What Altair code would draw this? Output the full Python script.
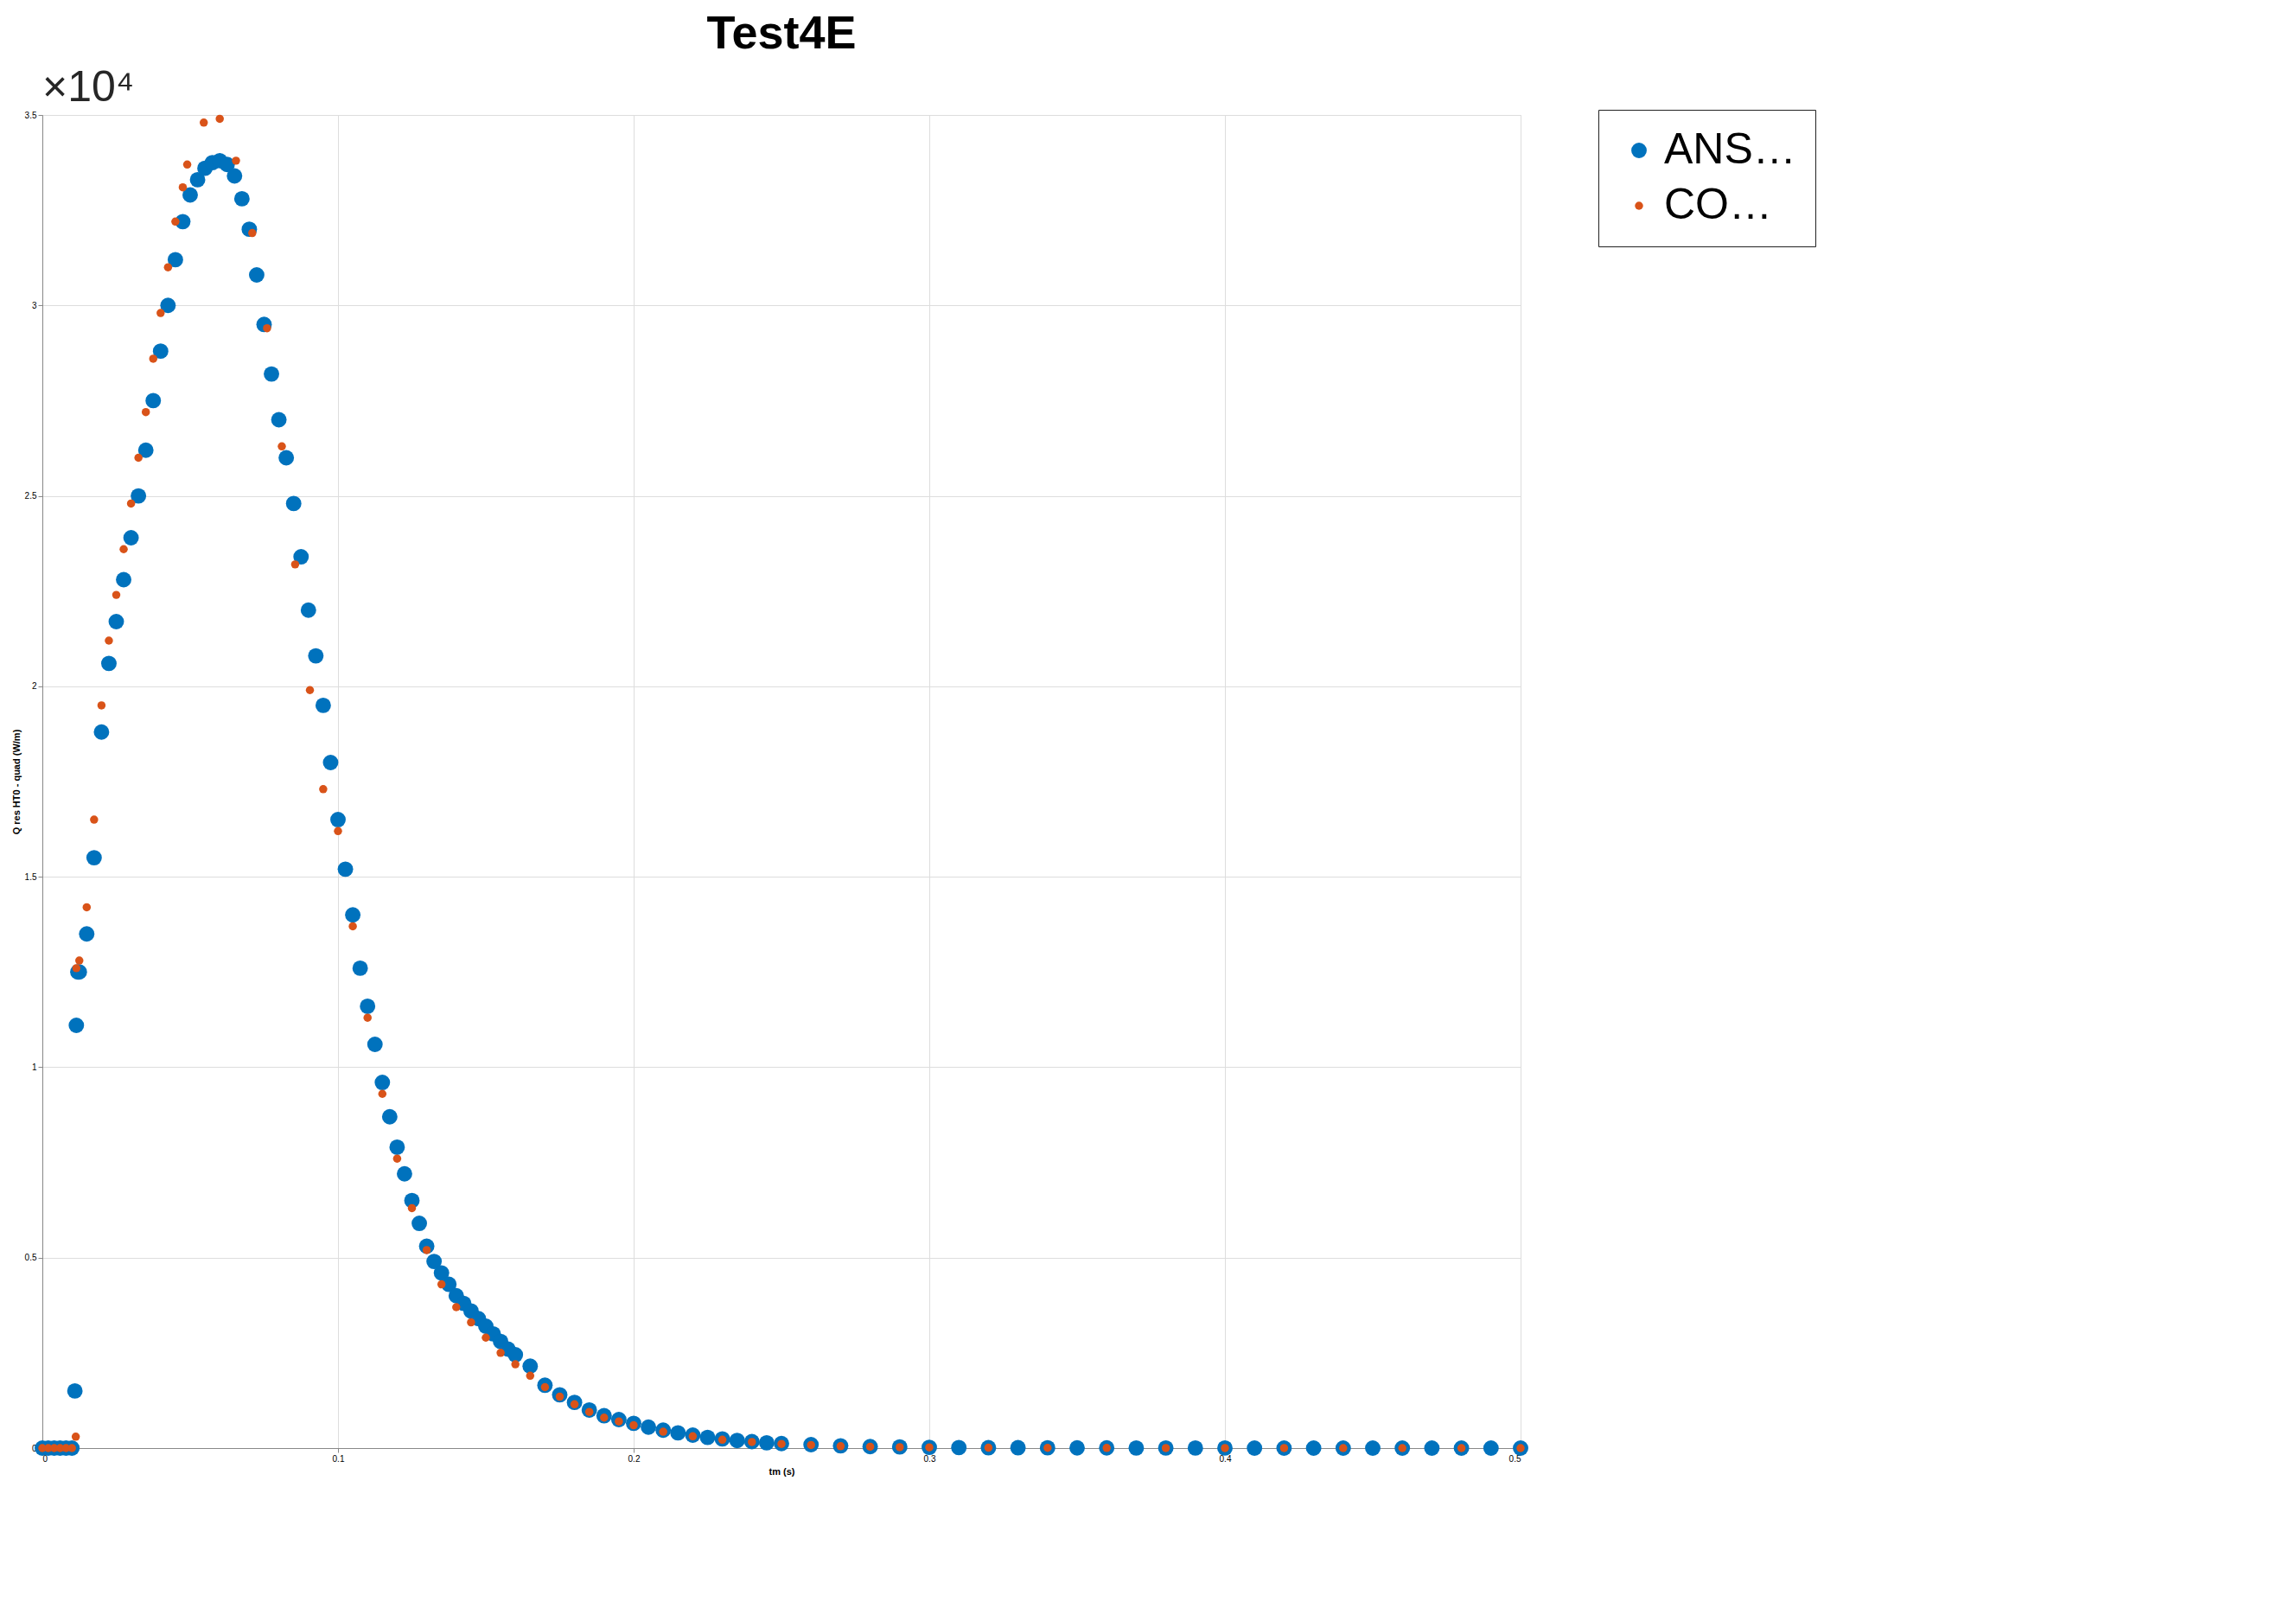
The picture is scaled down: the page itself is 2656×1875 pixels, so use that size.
import altair as alt
import pandas as pd

ansys_t = [0, 0.002, 0.004, 0.006, 0.008, 0.010, 0.011, 0.0115, 0.012,
           0.0125, 0.015, 0.0175, 0.02, 0.0225, 0.025, 0.0275, 0.03, 0.0325, 0.035, 0.0375,
           0.04, 0.0425, 0.045, 0.0475, 0.05, 0.0525, 0.055, 0.0575, 0.06, 0.0625,
           0.065, 0.0675, 0.07, 0.0725, 0.075, 0.0775, 0.08, 0.0825, 0.085, 0.0875,
           0.09, 0.0925, 0.095, 0.0975, 0.1, 0.1025, 0.105, 0.1075, 0.11, 0.1125,
           0.115, 0.1175, 0.12, 0.1225, 0.125, 0.1275, 0.13, 0.1325, 0.135, 0.1375,
           0.14, 0.1425, 0.145, 0.1475, 0.15, 0.1525, 0.155, 0.1575, 0.16, 0.165,
           0.17, 0.175, 0.18, 0.185, 0.19, 0.195, 0.2, 0.205, 0.21, 0.215, 0.22,
           0.225, 0.23, 0.235, 0.24, 0.245, 0.25, 0.26, 0.27, 0.28, 0.29, 0.3,
           0.31, 0.32, 0.33, 0.34, 0.35, 0.36, 0.37, 0.38, 0.39, 0.4, 0.41, 0.42,
           0.43, 0.44, 0.45, 0.46, 0.47, 0.48, 0.49, 0.5]
ansys_q = [0, 0, 0, 0, 0, 0, 0.15, 1.11, 1.25,
           1.25, 1.35, 1.55, 1.88, 2.06, 2.17, 2.28, 2.39, 2.5, 2.62, 2.75,
           2.88, 3.0, 3.12, 3.22, 3.29, 3.33, 3.36, 3.375, 3.38, 3.37,
           3.34, 3.28, 3.2, 3.08, 2.95, 2.82, 2.7, 2.6, 2.48, 2.34,
           2.2, 2.08, 1.95, 1.8, 1.65, 1.52, 1.4, 1.26, 1.16, 1.06,
           0.96, 0.87, 0.79, 0.72, 0.65, 0.59, 0.53, 0.49, 0.46, 0.43,
           0.40, 0.38, 0.36, 0.34, 0.32, 0.30, 0.28, 0.26, 0.245, 0.215,
           0.165, 0.14, 0.12, 0.10, 0.085, 0.075, 0.065, 0.055, 0.047, 0.04, 0.034,
           0.028, 0.024, 0.02, 0.017, 0.014, 0.012, 0.009, 0.006, 0.004, 0.003, 0.002,
           0.0015, 0.001, 0.001, 0.0008, 0.0006, 0.0005, 0.0004, 0.0003, 0.0002, 0.0002, 0.0001, 0.0001,
           0.0001, 0, 0, 0, 0, 0, 0, 0]

comsol_t = [0, 0.002, 0.004, 0.006, 0.008, 0.010, 0.0113,
            0.0115, 0.0125, 0.015, 0.0175, 0.02, 0.0225, 0.025, 0.0275, 0.03, 0.0325,
            0.035, 0.0375, 0.04, 0.0425, 0.045, 0.0475, 0.049, 0.0546, 0.060, 0.0655,
            0.071, 0.076, 0.081, 0.0855, 0.0905, 0.095, 0.1, 0.105, 0.11, 0.115, 0.12,
            0.125, 0.13, 0.135, 0.14, 0.145, 0.15, 0.155, 0.16, 0.165, 0.17, 0.175,
            0.18, 0.185, 0.19, 0.195, 0.2, 0.21, 0.22, 0.23, 0.24, 0.25, 0.26, 0.27,
            0.28, 0.29, 0.3, 0.32, 0.34, 0.36, 0.38, 0.4, 0.42, 0.44, 0.46, 0.48, 0.5]
comsol_q = [0, 0, 0, 0, 0, 0, 0.03,
            1.26, 1.28, 1.42, 1.65, 1.95, 2.12, 2.24, 2.36, 2.48, 2.6,
            2.72, 2.86, 2.98, 3.1, 3.22, 3.31, 3.37, 3.48, 3.49, 3.38,
            3.19, 2.94, 2.63, 2.32, 1.99, 1.73, 1.62, 1.37, 1.13, 0.93, 0.76,
            0.63, 0.52, 0.43, 0.37, 0.33, 0.29, 0.25, 0.22, 0.19, 0.16, 0.135,
            0.115, 0.095, 0.08, 0.07, 0.06, 0.043, 0.031, 0.022, 0.016, 0.011, 0.008, 0.005,
            0.0035, 0.0025, 0.0018, 0.001, 0.0006, 0.0004, 0.0002, 0.0001, 0.0001, 0, 0, 0, 0]

df = pd.concat([
    pd.DataFrame({"t": ansys_t, "q": [v * 1e4 for v in ansys_q], "s": "ANSYS"}),
    pd.DataFrame({"t": comsol_t, "q": [v * 1e4 for v in comsol_q], "s": "COMSOL"}),
])

FONT = "Liberation Sans"

pts = alt.Chart(df).mark_point(filled=True, opacity=1, shape="circle").encode(
    x=alt.X("t:Q", scale=alt.Scale(domain=[0, 0.5], nice=False),
            axis=alt.Axis(title="tm (s)", values=[0, 0.1, 0.2, 0.3, 0.4, 0.5], format="~g")),
    y=alt.Y("q:Q", scale=alt.Scale(domain=[0, 35000], nice=False),
            axis=alt.Axis(title="Q res HT0 - quad (W/m)",
                          values=[0, 5000, 10000, 15000, 20000, 25000, 30000, 35000],
                          labelExpr="datum.value/10000")),
    color=alt.Color("s:N", scale=alt.Scale(domain=["ANSYS", "COMSOL"], range=["#0072BD", "#D95319"]),
                    legend=alt.Legend(title=None, orient="none", legendX=1800, legendY=-6,
                                      strokeColor="#222", fillColor="white", padding=22,
                                      symbolSize=250, labelFontSize=50, labelFont=FONT,
                                      rowPadding=14, symbolType="circle")),
    size=alt.Size("s:N", scale=alt.Scale(domain=["ANSYS", "COMSOL"], range=[320, 90]), legend=None),
    order=alt.Order("s:N"),
)

mult = alt.Chart(pd.DataFrame({"a": [1]})).mark_text(
    text="×10⁴", align="left", baseline="bottom", fontSize=50, font=FONT, color="#262626"
).encode(x=alt.value(0), y=alt.value(-6))

chart = (pts + mult).properties(
    width=1710, height=1542,
    title=alt.TitleParams("Test4E", fontSize=54, font=FONT, fontWeight="bold", offset=10),
).configure_view(stroke="#262626", strokeWidth=5).configure_axis(
    labelFont=FONT, titleFont=FONT, labelFontSize=50, titleFontSize=58,
    labelColor="#262626", titleColor="#262626", titleFontWeight="normal",
    grid=True, gridColor="#dcdcdc", gridWidth=3, domain=False,
    tickColor="#262626", tickWidth=4, tickSize=10, labelPadding=6,
).configure(background="white")

chart.save("out.html", embed_options={"renderer": "svg", "actions": False})
